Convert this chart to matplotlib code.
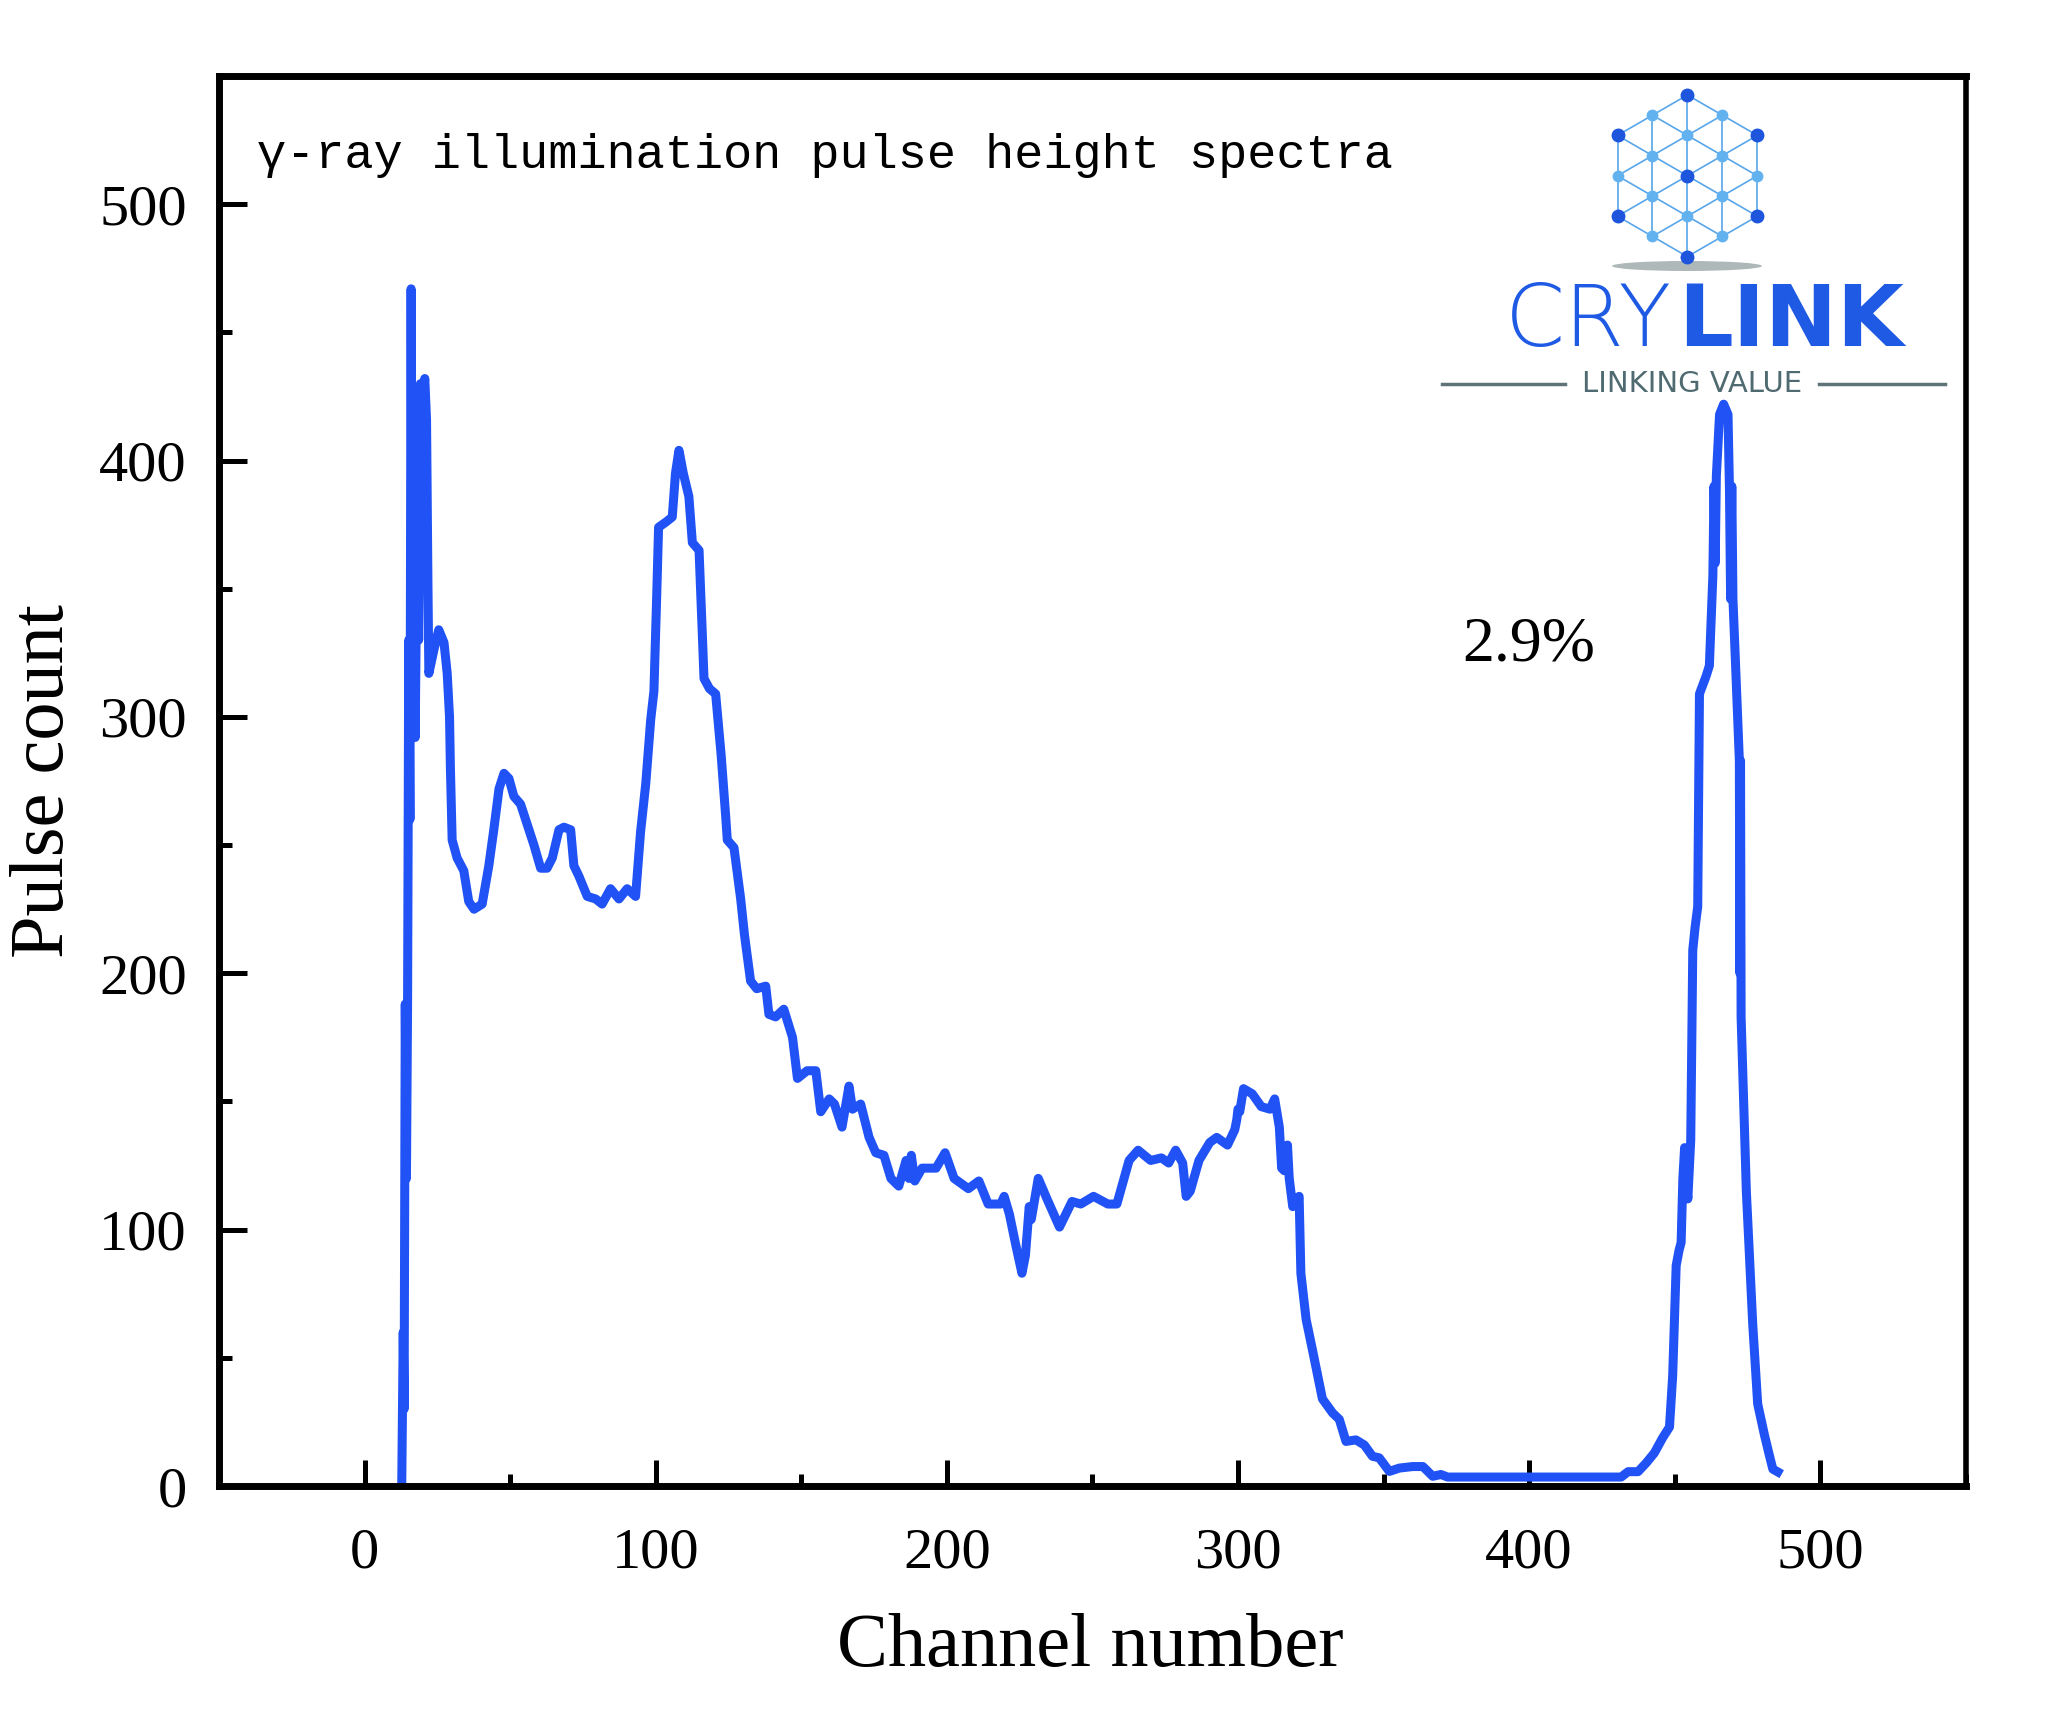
import matplotlib
matplotlib.use('Agg')
import matplotlib.pyplot as plt
from matplotlib.ticker import MultipleLocator
from matplotlib.patches import Ellipse

plt.rcParams['font.family'] = ['Liberation Serif', 'DejaVu Serif']

# spectrum (channel, pulse count)
channel = [12.8, 13.3, 13.6, 14.0, 14.4, 14.8, 15.2, 15.6, 16.0, 16.4, 16.9, 17.4, 18.0, 18.6,
           19.2, 20.0, 20.7, 21.3, 21.8, 22.1, 23.8, 25.5, 27.3, 28.4, 29.2, 29.5, 30.1, 31.8,
           34.1, 35.8, 37.6, 40.4, 42.7, 44.4, 46.2, 47.9, 49.6, 51.3, 53.6, 55.9, 58.2, 60.5,
           62.7, 64.5, 66.8, 68.5, 70.8, 71.9, 73.6, 76.5, 79.4, 81.6, 84.5, 87.4, 90.2, 93.1,
           94.8, 96.6, 98.3, 99.4, 100.3, 101.0, 103.5, 105.7, 106.8, 108.0, 109.5, 111.4,
           112.6, 114.9, 115.6, 116.0, 116.6, 118.5, 120.6, 122.5, 124.0, 124.6, 126.9, 129.2,
           130.5, 132.6, 134.7, 137.8, 138.9, 141.2, 144.0, 147.0, 148.7, 152.0, 155.0, 156.7,
           159.6, 161.4, 164.0, 166.4, 167.6, 170.4, 173.3, 175.6, 178.4, 180.8, 183.5, 186.0,
           187.0, 187.8, 189.0, 191.5, 196.3, 199.4, 202.5, 207.4, 211.0, 214.2, 218.5, 219.7,
           221.5, 223.5, 225.8, 227.0, 228.3, 229.0, 231.4, 234.4, 238.7, 243.0, 246.0, 250.4,
           255.3, 258.4, 262.6, 265.7, 270.0, 273.7, 276.2, 278.6, 281.0, 282.2, 283.6, 286.6,
           290.3, 292.7, 296.4, 298.9, 299.6, 300.0, 300.6, 301.9, 304.9, 308.0, 311.0, 312.6,
           314.2, 315.0, 315.9, 317.0, 317.6, 318.8, 320.0, 321.0, 321.6, 323.4, 325.6, 329.0,
           332.5, 334.8, 337.1, 340.5, 343.4, 346.2, 348.5, 352.0, 355.4, 360.0, 363.5, 366.9,
           369.7, 372.0, 400.0, 431.6, 434.0, 437.4, 440.2, 443.0, 445.9, 448.2, 449.3, 450.5,
           451.5, 452.2, 452.8, 453.4, 454.5, 455.5, 456.2, 457.0, 457.9, 458.5, 460.8, 461.9,
           463.1, 463.5, 463.9, 464.3, 465.4, 466.8, 468.3, 468.8, 469.2, 469.6, 470.0, 471.1,
           472.2, 472.4, 472.6, 472.8, 474.6, 476.8, 478.5, 480.8, 482.5, 483.7, 485.4]
counts = [2, 60, 30, 188, 120, 190, 330, 260, 467, 295, 390, 292, 365, 330,
          430, 425, 432, 416, 350, 317, 326, 334, 329, 317, 300, 280, 252, 245,
          240, 228, 225, 227, 242, 256, 272, 278, 276, 269, 266, 258, 250, 241,
          241, 245, 256, 257, 256, 242, 238, 230, 229, 227, 233, 229, 233, 230,
          255, 274, 299, 310, 345, 374, 376, 378, 395, 404, 395, 386,
          368, 365, 345, 333, 315, 311, 309, 285, 262, 252, 249, 229,
          215, 197, 194, 195, 184, 183, 186, 175, 159, 162, 162, 146,
          151, 149, 140, 156, 147, 149, 136, 130, 129, 120, 117, 127,
          120, 129, 119, 124, 124, 130, 120, 116, 119, 110, 110, 113,
          106, 95, 83, 90, 109, 104, 120, 112, 101, 111, 110, 113,
          110, 110, 127, 131, 127, 128, 126, 131, 126, 113, 115, 127,
          134, 136, 133, 139, 143, 147, 146, 155, 153, 148, 147, 151,
          140, 124, 123, 133, 120, 109, 110, 113, 83, 65, 53, 34,
          28.5, 26, 17.4, 18, 16, 11.6, 11, 5.7, 7, 7.6, 7.6, 3.8,
          4.5, 3.5, 3.5, 3.5, 5.6, 5.6, 9, 12.9, 18.9, 23, 43, 86,
          92, 95, 120, 132, 112, 135, 209, 218, 226, 309, 316, 320,
          355, 390, 360, 394, 418, 422, 418, 389, 346, 390, 346, 315,
          283, 200, 283, 183, 115, 63, 32, 20, 12, 6.6, 5.5]

xticks = [0, 100, 200, 300, 400, 500]
yticks = [0, 100, 200, 300, 400, 500]

fig = plt.figure(figsize=(20.48, 17.13), dpi=100)
ax = fig.add_axes([0.1069, 0.1325, 0.8530, 0.8231])

ax.plot(channel, counts, color='#2052F5', lw=6.5, solid_joinstyle='round')

ax.set_xlim(-50, 550)
ax.set_ylim(0, 550)
ax.set_xticks(xticks)
ax.set_yticks(yticks)
ax.xaxis.set_minor_locator(MultipleLocator(50))
ax.yaxis.set_minor_locator(MultipleLocator(50))
ax.tick_params(which='both', direction='in', top=False, right=False, width=3.6)
ax.tick_params(axis='x', which='major', length=19, pad=30, labelsize=42)
ax.tick_params(axis='y', which='major', length=20, pad=23, labelsize=42)
ax.tick_params(which='minor', length=9)
for side in ['left', 'bottom', 'top']:
    ax.spines[side].set_linewidth(5)
ax.spines['right'].set_linewidth(4)

ax.set_xlabel('Channel number', fontsize=55)
ax.set_ylabel('Pulse count', fontsize=55)
ax.xaxis.set_label_coords(0.499, -0.09)
ax.yaxis.set_label_coords(-0.08, 0.5)

ax.text(0.022, 0.944, 'γ-ray illumination pulse height spectra', transform=ax.transAxes,
        fontsize=35, family=['Liberation Mono', 'DejaVu Sans Mono'], va='center', ha='left')
ax.text(377, 328, '2.9%', fontsize=46, va='center', ha='left')

#######################    LOGO    #######################
logo = fig.add_axes([1430 / 2048, 1 - 395 / 1713, 530 / 2048, 310 / 1713])
logo.set_xlim(1430, 1960)
logo.set_ylim(395, 85)
logo.axis('off')

cols = [0, 0, 0, 0, 0, 1, 1, 1, 1, -1, -1, -1, -1, 2, 2, 2, -2, -2, -2]
rows = [0, 2, 4, 6, 8, 1, 3, 5, 7, 1, 3, 5, 7, 2, 4, 6, 2, 4, 6]
dark = [(0, 0), (0, 4), (0, 8), (2, 2), (2, 6), (-2, 2), (-2, 6)]
pts = list(zip(cols, rows))
gx = lambda c: 1687.4 + c * 34.95
gy = lambda r: 95 + r * 20.2
for (c1, r1) in pts:
    for (c2, r2) in pts:
        if (abs(c1 - c2) == 1 and abs(r1 - r2) == 1) or (c1 == c2 and r2 - r1 == 2):
            if (c1, r1) < (c2, r2) or c1 == c2:
                logo.plot([gx(c1), gx(c2)], [gy(r1), gy(r2)], color='#58A6EA', lw=1.2)
for (c, r) in pts:
    if (c, r) in dark:
        logo.plot(gx(c), gy(r), 'o', color='#1D55DD', ms=9)
    else:
        logo.plot(gx(c), gy(r), 'o', color='#63B2F0', ms=7.5)
logo.add_patch(Ellipse((1687, 266), 150, 10, color='#9AA6A8', alpha=0.8, lw=0))

logo.text(1672, 346, 'CRY', fontsize=62, family='DejaVu Sans', fontweight='light',
          color='#1F5AE4', ha='right', va='baseline')
logo.text(1678, 346, 'LINK', fontsize=62, family='DejaVu Sans', fontweight='bold',
          color='#1F5AE4', ha='left', va='baseline')
logo.text(1692, 384, 'LINKING VALUE', fontsize=21, family='DejaVu Sans',
          color='#4F6A70', ha='center', va='center')
logo.plot([1442, 1565], [384, 384], color='#5F7478', lw=2.5)
logo.plot([1819, 1945], [384, 384], color='#5F7478', lw=2.5)

plt.savefig('out.png', dpi=100)
